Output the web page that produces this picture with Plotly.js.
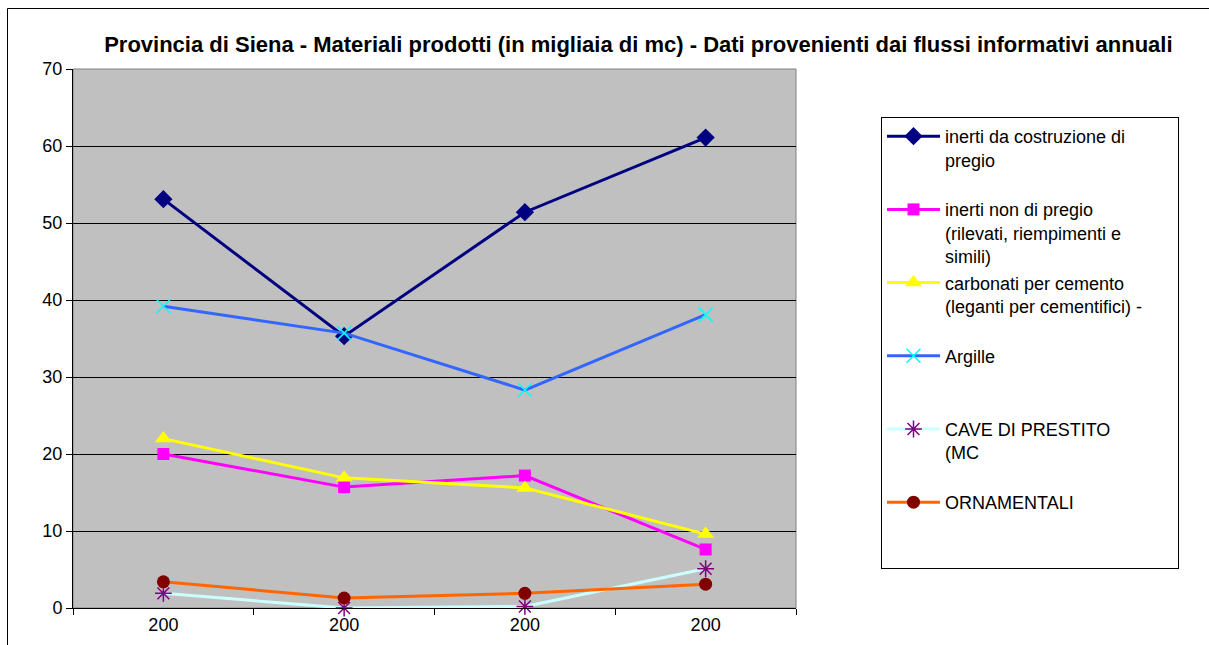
<!DOCTYPE html>
<html>
<head>
<meta charset="utf-8">
<script src="https://cdn.plot.ly/plotly-3.0.1.min.js"></script>
<style>html,body{margin:0;padding:0;background:#fff;}#chart{width:1209px;height:645px;}</style>
</head>
<body>
<div id="chart"></div>
<script>
const categories = [0, 1, 2, 3];
const tickLabels = ['200', '200', '200', '200'];
const seriesNames = [
  'inerti da costruzione di<br>pregio<br> ',
  'inerti non di pregio<br>(rilevati, riempimenti e<br>simili)',
  'carbonati per cemento<br>(leganti per cementifici) -&nbsp;&nbsp;&nbsp;&nbsp;&nbsp;&nbsp;<br> ',
  'Argille<br> <br> ',
  'CAVE DI PRESTITO<br>(MC<br> ',
  'ORNAMENTALI<br> <br> '
];
const inertiPregio = [53.1, 35.3, 51.4, 61.1];
const inertiNonPregio = [20.0, 15.7, 17.2, 7.6];
const carbonati = [22.0, 16.9, 15.6, 9.6];
const argille = [39.2, 35.7, 28.3, 38.1];
const cavePrestito = [1.9, 0.0, 0.2, 5.1];
const ornamentali = [3.4, 1.3, 1.9, 3.1];

const styles = [
  {line: '#000080', marker: '#000080', symbol: 'diamond', size: 14},
  {line: '#FF00FF', marker: '#FF00FF', symbol: 'square', size: 12},
  {line: '#FFFF00', marker: '#FFFF00', symbol: 'triangle-up', size: 15},
  {line: '#3366FF', marker: '#00FFFF', symbol: 'x-thin-open', size: 14},
  {line: '#CCFFFF', marker: '#800080', symbol: 'asterisk-open', size: 14},
  {line: '#FF6600', marker: '#800000', symbol: 'circle', size: 13}
];
const allValues = [inertiPregio, inertiNonPregio, carbonati, argille, cavePrestito, ornamentali];

const traces = allValues.map((vals, i) => ({
  type: 'scatter',
  mode: 'lines+markers',
  x: categories,
  y: vals,
  name: seriesNames[i],
  legendgroup: 'g' + i,
  cliponaxis: false,
  line: {color: styles[i].line, width: 3},
  marker: {
    color: styles[i].marker,
    symbol: styles[i].symbol,
    size: styles[i].size,
    line: {color: styles[i].marker, width: (styles[i].symbol.indexOf('open') >= 0) ? 1.5 : 0}
  }
}));

const pw = 723, ph = 539;
const layout = {
  width: 1209, height: 645,
  margin: {l: 73, r: 413, t: 69, b: 37, pad: 0},
  paper_bgcolor: '#FFFFFF',
  plot_bgcolor: '#C0C0C0',
  font: {family: 'Liberation Sans, Arial, sans-serif', size: 18, color: '#000'},
  title: {
    text: 'Provincia di Siena - Materiali prodotti (in migliaia di mc) - Dati provenienti dai flussi informativi annuali',
    font: {family: 'Liberation Sans, Arial, sans-serif', size: 22, weight: 'bold', color: '#000'},
    x: 0.528, xanchor: 'center', xref: 'container',
    y: 1 - 44 / 645, yanchor: 'middle', yref: 'container'
  },
  showlegend: true,
  legend: {
    x: (881 - 73) / pw, xanchor: 'left',
    y: (608 - 117) / ph, yanchor: 'top',
    bgcolor: '#FFFFFF', bordercolor: '#000000', borderwidth: 1,
    font: {family: 'Liberation Sans, Arial, sans-serif', size: 18, color: '#000'},
    valign: 'top',
    traceorder: 'grouped',
    tracegroupgap: 0,
    itemwidth: 53
  },
  xaxis: {
    range: [-0.5, 3.5],
    tickvals: categories,
    ticktext: tickLabels,
    ticks: '',
    showgrid: false,
    zeroline: false,
    showline: true, linecolor: '#000', linewidth: 1,
    tickfont: {size: 18},
    minor: {tick0: -0.5, dtick: 1, ticks: 'outside', ticklen: 6, tickcolor: '#000', tickwidth: 1, showgrid: false},
    fixedrange: true
  },
  yaxis: {
    range: [0, 70],
    dtick: 10,
    ticks: 'outside', ticklen: 6, tickcolor: '#000',
    showgrid: true, gridcolor: '#000', gridwidth: 1,
    zeroline: false,
    showline: true, linecolor: '#000', linewidth: 1,
    tickfont: {size: 18},
    fixedrange: true
  },
  shapes: [
    {type: 'rect', xref: 'paper', yref: 'paper', x0: 0, x1: 1, y0: 0, y1: 1, line: {color: '#808080', width: 1}, layer: 'below'},
    {type: 'rect', xref: 'paper', yref: 'paper', x0: (7.5 - 73) / pw, x1: (1300 - 73) / pw, y0: (608 - 700) / ph, y1: (608 - 8.5) / ph, line: {color: '#000', width: 1}}
  ]
};

Plotly.newPlot('chart', traces, layout, {displayModeBar: false, staticPlot: true});
</script>
</body>
</html>
